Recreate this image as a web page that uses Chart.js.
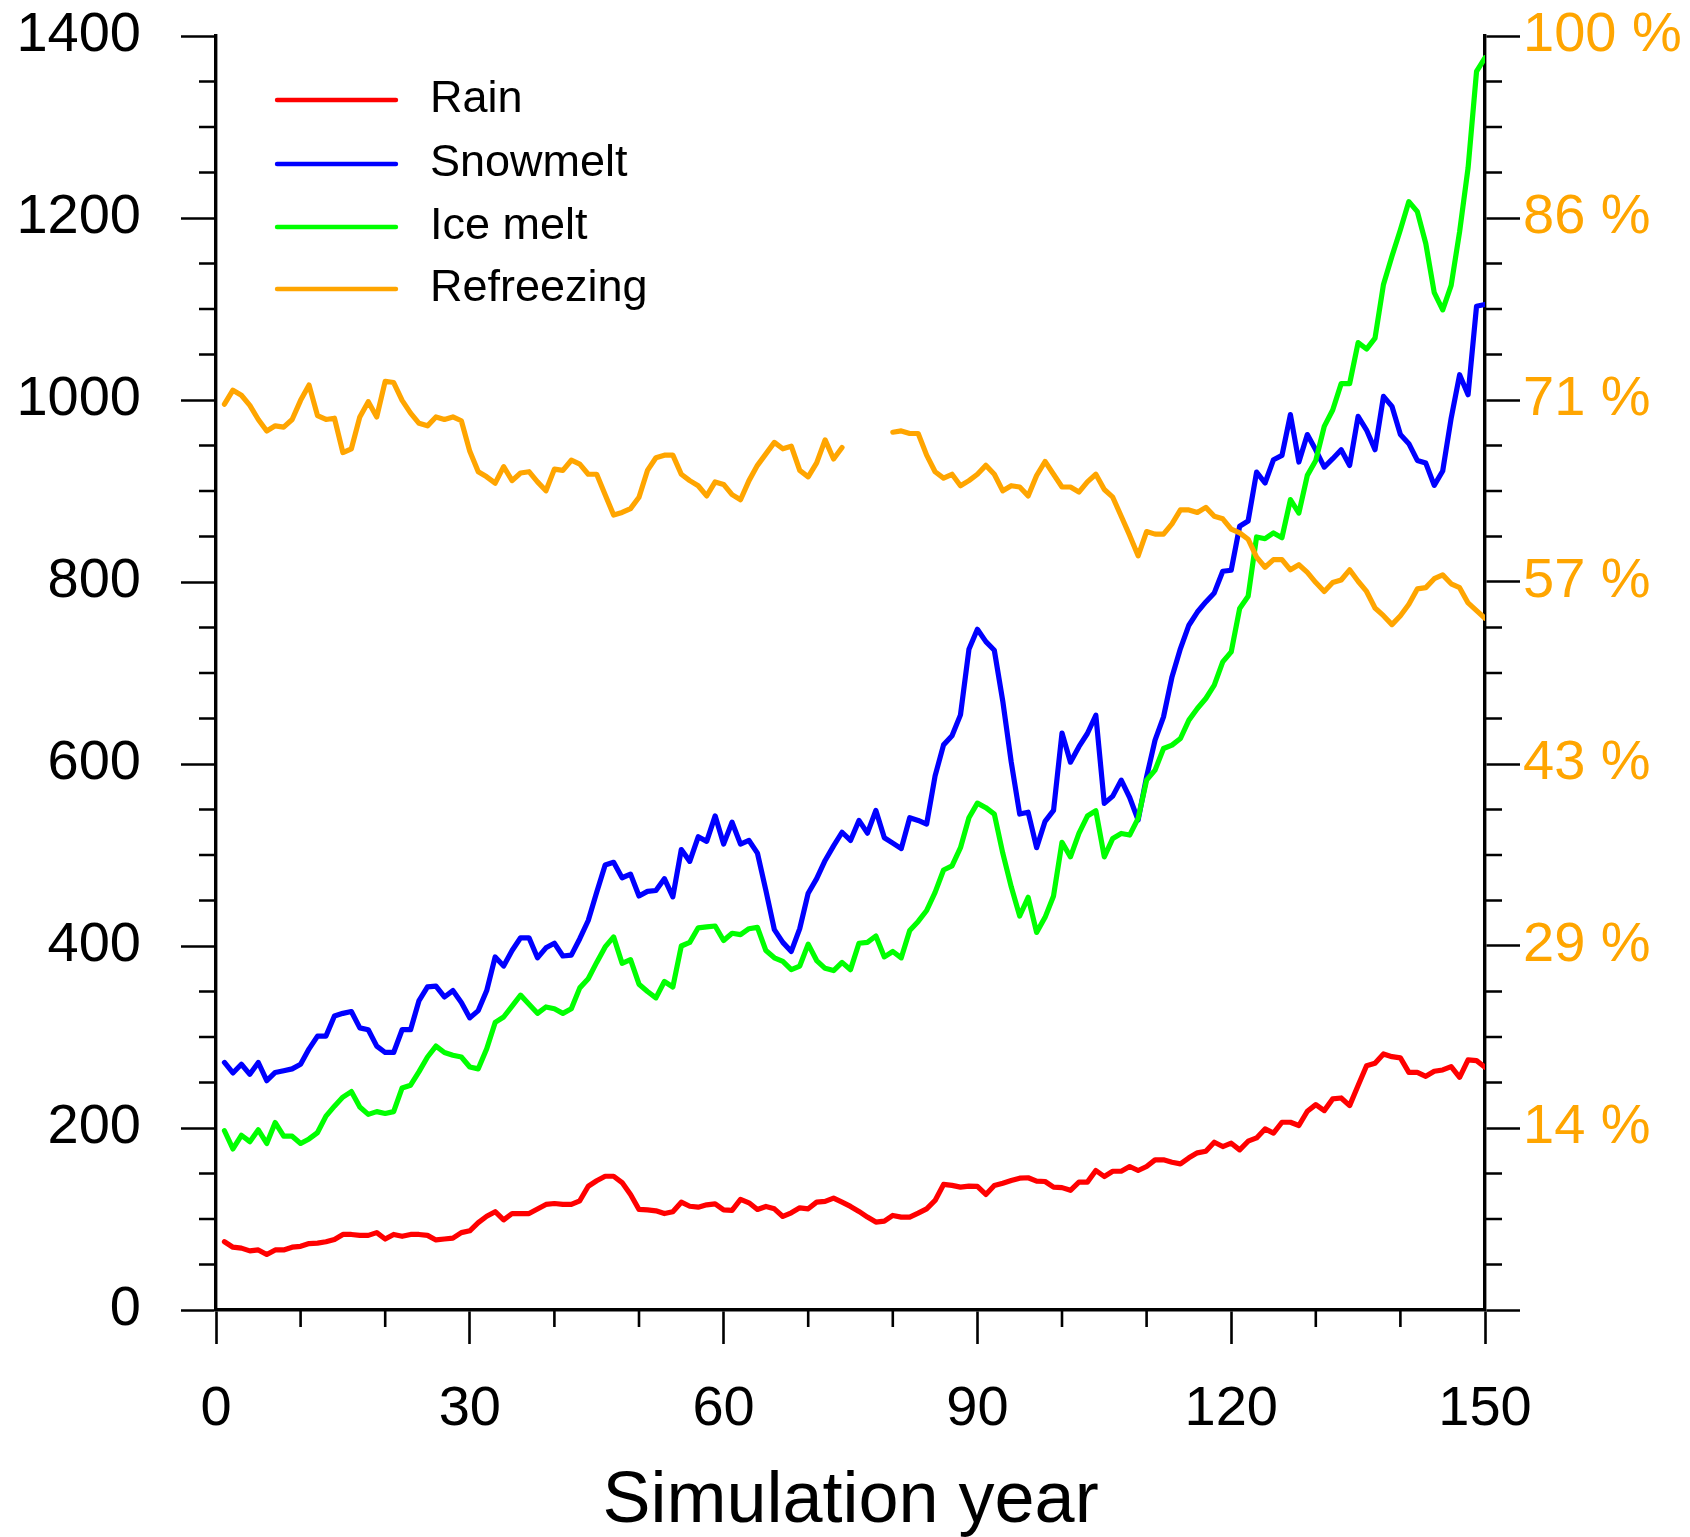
<!DOCTYPE html>
<html>
<head>
<meta charset="utf-8">
<script src="https://cdn.jsdelivr.net/npm/chart.js@4.4.1/dist/chart.umd.min.js"></script>
<style>
  html, body { margin: 0; padding: 0; background: #ffffff; }
  canvas { display: block; }
</style>
</head>
<body>
<canvas id="runoff" width="1690" height="1537"></canvas>
<script>
// Simulation years (one value per year)
const years = Array.from({ length: 150 }, (_, i) => i + 1);

// Annual components (left axis units)
const rain = [
  75, 69, 68, 65, 66, 61, 66, 66, 69, 70,
  73, 73.5, 75, 77.5, 83, 83, 82, 82, 85, 78,
  83, 81, 83, 83, 82, 77, 78, 79, 85, 87,
  96, 103, 108, 99, 106, 106, 106, 111, 116, 117,
  116, 116, 120, 136, 142, 147, 147, 140, 127, 110.5,
  110, 109, 106, 108, 118.5, 114, 113, 115.6, 116.7, 110,
  109.4, 121.5, 117.8, 110.5, 113.8, 111.2, 102.8, 106.8, 112.3, 111.2,
  118.5, 119.3, 123, 118.5, 113.8, 108.3, 102.1, 96.6, 97.7, 103.9,
  102.1, 102.1, 106.5, 111.2, 120.4, 138, 136.9, 135, 136.1, 135.8,
  127, 136.9, 139.4, 142.3, 144.9, 145.3, 141.6, 141.2, 135, 134.5,
  131.5, 140.5, 140.5, 153.3, 146.7, 152.5, 152.5, 157.7, 153.3, 157.7,
  165, 165, 162.4, 160.6, 167.2, 172.7, 174.5, 184.4, 179.6, 183.3,
  176, 185.5, 189.1, 199, 194.3, 206.3, 206.3, 202.7, 218.4, 225.7,
  219.1, 232, 233, 224.6, 246.6, 268.5, 271.1, 281.4, 278.4, 277,
  261.2, 261.2, 256.8, 262.3, 263.8, 267.5, 255.7, 274.8, 274, 266.7
];

const snowmelt = [
  272, 260.5, 270, 259, 272, 252, 261, 263, 265, 270,
  287, 301, 301, 323, 326, 328, 310, 308, 290, 283,
  283, 308, 308, 340, 355, 356, 344, 351, 338, 321,
  329, 351, 388, 378, 395, 409, 409, 387, 398, 403,
  389, 390, 408, 428, 459, 489, 492, 475, 479, 455,
  460, 461, 474, 454, 506, 493, 520, 515, 543, 512,
  536, 512, 516, 502, 461, 418, 404, 394, 419, 458,
  474, 494, 510, 525, 516, 538, 524, 549, 519, 513,
  507, 541, 538, 534, 587, 621, 631, 654, 726, 748,
  734.5, 725, 669, 602, 545, 547, 508, 537, 549, 634,
  602, 619, 633.5, 653.6, 556.7, 564.7, 582.3, 563.2, 538.4, 585.9,
  626.2, 651.8, 695.7, 726.9, 752.5, 767, 778.1, 788, 811.8, 812.9,
  861.2, 867, 920.8, 908.8, 934.4, 939.1, 983.9, 931.8, 962, 945,
  926.3, 935.5, 945.4, 928.1, 982, 967, 945.4, 1004, 993, 962,
  952, 933.6, 930.7, 906.2, 922, 980, 1027.8, 1005.8, 1103, 1105
];

const iceMelt = [
  197, 177, 192, 185, 198, 183, 206, 191, 191, 183,
  188, 195, 213, 224, 234, 240, 223, 215, 218, 216,
  218, 244, 247, 262, 278, 290, 283, 280, 278, 267,
  265, 287, 316, 322, 334, 346, 336, 326, 333, 331,
  326, 331, 354, 364, 382, 399, 410, 381, 385, 358,
  350, 343, 361, 355, 400, 404, 420, 421, 422, 406,
  414, 412.5, 419, 420.5, 395, 387, 383, 374, 378, 402,
  384, 375.5, 373, 382, 374, 403, 404, 411, 388, 394,
  387, 417, 427, 439, 459, 483.5, 488, 508, 541, 557,
  552, 545, 502, 465, 433, 453.5, 415, 431.5, 455, 514,
  498, 523.7, 542.8, 548.6, 498, 518.2, 523.7, 521.9, 540.2, 582.3,
  593.3, 617, 620.7, 628, 648.2, 661, 672, 686.6, 712.2, 723.2,
  770.8, 784.3, 849.5, 847.6, 853.9, 848.7, 890.5, 875.8, 917.2, 933.6,
  971, 989, 1018, 1018, 1063, 1056, 1068, 1127, 1158, 1187,
  1218, 1207, 1172, 1118, 1099, 1126, 1185, 1255, 1361, 1376
];

// Refreezing fraction in percent (right axis); years 75-79 missing
const refreezing = [
  71.1, 72.2, 71.8, 71.0, 69.9, 69.0, 69.4, 69.3, 69.9, 71.4,
  72.6, 70.2, 69.9, 70.0, 67.3, 67.6, 70.1, 71.3, 70.1, 72.9,
  72.8, 71.4, 70.4, 69.6, 69.4, 70.1, 69.9, 70.1, 69.8, 67.4,
  65.8, 65.4, 64.9, 66.2, 65.1, 65.7, 65.8, 65.0, 64.3, 66.0,
  65.9, 66.7, 66.4, 65.6, 65.6, 64.0, 62.4, 62.6, 62.9, 63.8,
  65.9, 66.9, 67.1, 67.1, 65.6, 65.1, 64.7, 63.9, 65.0, 64.8,
  64.0, 63.6, 65.1, 66.3, 67.2, 68.1, 67.6, 67.8, 65.9, 65.4,
  66.5, 68.3, 66.8, 67.7, null, null, null, null, null, 68.9,
  69.0, 68.8, 68.8, 67.1, 65.8, 65.3, 65.6, 64.7, 65.1, 65.6,
  66.3, 65.6, 64.3, 64.7, 64.6, 63.9, 65.5, 66.6, 65.6, 64.6,
  64.6, 64.2, 65.0, 65.6, 64.4, 63.8, 62.3, 60.8, 59.2, 61.1,
  60.9, 60.9, 61.7, 62.8, 62.8, 62.6, 63.0, 62.3, 62.1, 61.3,
  61.0, 60.5, 59.1, 58.3, 58.9, 58.9, 58.1, 58.5, 57.9, 57.1,
  56.4, 57.1, 57.3, 58.1, 57.2, 56.4, 55.1, 54.5, 53.8, 54.5,
  55.4, 56.6, 56.7, 57.4, 57.7, 57.0, 56.7, 55.5, 54.9, 54.3
];

// Tick positions
const xMajorTicks = [0, 30, 60, 90, 120, 150];
const xMinorTicks = [10, 20, 40, 50, 70, 80, 100, 110, 130, 140];
const yMajorTicks = [0, 200, 400, 600, 800, 1000, 1200, 1400];
const pctMajorTicks = [0, 1, 2, 3, 4, 5, 6, 7].map(i => i * 100 / 7);

const FONT = '"Liberation Sans", Arial, Helvetica, sans-serif';
const ORANGE = '#ffa500';
const TICK_MAJOR = 35;
const TICK_MINOR = 17;
const TICK_W = 2.6;
const AXIS_W = 3.4;
const LINE_W = 5.2;
const LEGEND_LINE_W = 4.4;

// Minor tick marks on all three axes, positioned through the chart scales
const minorTicks = {
  id: 'minorTicks',
  afterDraw(chart) {
    const { ctx, chartArea, scales } = chart;
    const y = scales.y, x = scales.x;
    ctx.save();
    ctx.strokeStyle = '#000';
    ctx.lineWidth = TICK_W;
    ctx.beginPath();
    for (let v = 0; v <= 1400; v += 50) {
      if (v % 200 === 0) continue;
      const py = y.getPixelForValue(v);
      ctx.moveTo(chartArea.left - TICK_MINOR, py);
      ctx.lineTo(chartArea.left, py);
      ctx.moveTo(chartArea.right, py);
      ctx.lineTo(chartArea.right + TICK_MINOR, py);
    }
    xMinorTicks.forEach(v => {
      const px = x.getPixelForValue(v);
      ctx.moveTo(px, chartArea.bottom);
      ctx.lineTo(px, chartArea.bottom + TICK_MINOR);
    });
    ctx.stroke();
    ctx.restore();
  }
};

// Legend block in the upper-left of the plot
const insetLegend = {
  id: 'insetLegend',
  afterDraw(chart) {
    const { ctx, chartArea } = chart;
    const x0 = chartArea.left + 61;
    const lineLen = 119;
    const textX = chartArea.left + 214;
    const rowY = [64, 128, 191, 253];
    ctx.save();
    ctx.font = '45px ' + FONT;
    ctx.textBaseline = 'middle';
    ctx.textAlign = 'left';
    chart.data.datasets.forEach((ds, i) => {
      const yy = chartArea.top + rowY[i];
      ctx.strokeStyle = ds.borderColor;
      ctx.lineWidth = LEGEND_LINE_W;
      ctx.lineCap = 'round';
      ctx.beginPath();
      ctx.moveTo(x0, yy);
      ctx.lineTo(x0 + lineLen, yy);
      ctx.stroke();
      ctx.fillStyle = '#000';
      ctx.fillText(ds.label, textX, yy);
    });
    ctx.restore();
  }
};

const lineStyle = { borderWidth: LINE_W, pointRadius: 0, tension: 0, fill: false, borderJoinStyle: 'round', borderCapStyle: 'round' };

// Vertical axes: fixed widths, no extra label overhang above/below the plot
const fixVertical = width => s => { s.width = width; s.paddingTop = 0; s.paddingBottom = 0; };

new Chart(document.getElementById('runoff'), {
  type: 'line',
  data: {
    labels: years,
    datasets: [
      { label: 'Rain', data: rain, borderColor: '#ff0000', yAxisID: 'y', order: 4, ...lineStyle },
      { label: 'Snowmelt', data: snowmelt, borderColor: '#0000ff', yAxisID: 'y', order: 3, ...lineStyle },
      { label: 'Ice melt', data: iceMelt, borderColor: '#00ff00', yAxisID: 'y', order: 2, ...lineStyle },
      { label: 'Refreezing', data: refreezing, borderColor: ORANGE, yAxisID: 'y1', order: 1, ...lineStyle }
    ]
  },
  plugins: [minorTicks, insetLegend],
  options: {
    responsive: false,
    animation: false,
    devicePixelRatio: 1,
    spanGaps: false,
    layout: { padding: { top: 36, left: 0, right: 0, bottom: 0 } },
    plugins: {
      legend: { display: false },
      tooltip: { enabled: false },
      title: { display: false }
    },
    scales: {
      x: {
        type: 'linear',
        position: 'bottom',
        min: 0,
        max: 150,
        afterBuildTicks: s => { s.ticks = xMajorTicks.map(v => ({ value: v })); },
        afterFit: s => { s.height = 227; s.paddingLeft = 0; s.paddingRight = 0; },
        border: { display: true, color: '#000', width: AXIS_W },
        grid: { display: true, drawOnChartArea: false, drawTicks: true, tickLength: 34, tickWidth: TICK_W, tickColor: '#000' },
        ticks: { color: '#000', font: { family: FONT, size: 56 }, padding: 32, maxRotation: 0, autoSkip: false,
                 callback: v => String(v) },
        title: {
          display: true,
          text: 'Simulation year',
          color: '#000',
          font: { family: FONT, size: 72, lineHeight: 0.9 },
          padding: { top: 0, bottom: 2 }
        }
      },
      y: {
        type: 'linear',
        position: 'left',
        min: 0,
        max: 1400,
        afterBuildTicks: s => { s.ticks = yMajorTicks.map(v => ({ value: v })); },
        afterFit: fixVertical(216),
        border: { display: true, color: '#000', width: AXIS_W },
        grid: { display: true, drawOnChartArea: false, drawTicks: true, tickLength: TICK_MAJOR, tickWidth: TICK_W, tickColor: '#000' },
        ticks: { color: '#000', font: { family: FONT, size: 56 }, padding: 40, callback: v => String(v) }
      },
      y1: {
        type: 'linear',
        position: 'right',
        min: 0,
        max: 100,
        afterBuildTicks: s => { s.ticks = pctMajorTicks.map(v => ({ value: v })); },
        afterFit: fixVertical(205),
        border: { display: true, color: '#000', width: AXIS_W },
        grid: { display: true, drawOnChartArea: false, drawTicks: true, tickLength: TICK_MAJOR, tickWidth: TICK_W, tickColor: '#000' },
        ticks: {
          color: ORANGE,
          font: { family: FONT, size: 56 },
          padding: 3,
          callback: v => (v === 0 ? '' : Math.round(v) + ' %')
        }
      }
    }
  }
});
</script>
</body>
</html>
